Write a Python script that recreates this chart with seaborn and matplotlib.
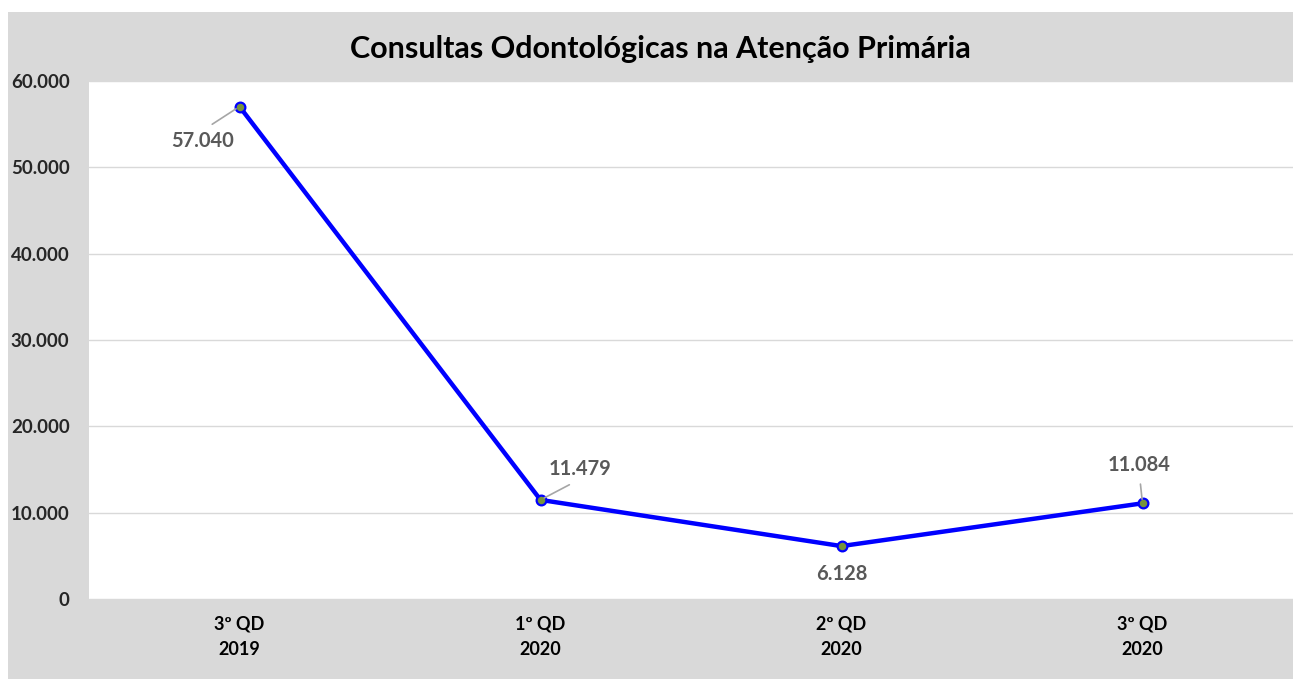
import matplotlib
matplotlib.use("Agg")
import matplotlib.pyplot as plt
from matplotlib.patches import Rectangle
from matplotlib.ticker import FuncFormatter, MultipleLocator
import seaborn as sns
import pandas as pd

# dados do gráfico
periodos = ["3º QD\n2019", "1º QD\n2020", "2º QD\n2020", "3º QD\n2020"]
consultas = [57040, 11479, 6128, 11084]
rotulos = ["57.040", "11.479", "6.128", "11.084"]

sns.set_style("white")
plt.rcParams["font.family"] = ["Lato", "DejaVu Sans"]

W, H = 1293, 679
fig = plt.figure(figsize=(W / 100, H / 100), dpi=100, facecolor="white")
# fundo cinza do gráfico
fig.patches.append(Rectangle((8 / W, 0), 1 - 8 / W, 1 - 12 / H, transform=fig.transFigure,
                             facecolor="#d9d9d9", edgecolor="none", zorder=-1))

ax = fig.add_axes([89 / W, 80 / H, 1204 / W, 518 / H])
ax.set_zorder(1)
ax.set_facecolor("white")

df = pd.DataFrame({"pos": range(len(periodos)), "consultas": consultas})
sns.lineplot(data=df, x="pos", y="consultas", ax=ax, color="#0000ff", linewidth=3.2,
             marker="o", markersize=7, markerfacecolor="#77933c",
             markeredgecolor="#0000ff", markeredgewidth=1.6, sort=False, zorder=3)

ax.set_xlim(-0.5, len(periodos) - 0.5)
ax.set_ylim(0, 60000)
ax.yaxis.set_major_locator(MultipleLocator(10000))
ax.yaxis.set_major_formatter(FuncFormatter(lambda v, p: f"{int(v):,}".replace(",", ".")))
ax.grid(axis="y", color="#d9d9d9", linewidth=1)
ax.set_axisbelow(True)
for s in ax.spines.values():
    s.set_visible(False)

ax.set_xticks(range(len(periodos)))
ax.set_xticklabels(periodos, fontsize=13, fontweight="bold", color="black", linespacing=1.6)
ax.tick_params(axis="x", length=0, pad=12)
ax.tick_params(axis="y", length=0, pad=14, labelsize=13.5)
for lbl in ax.get_yticklabels():
    lbl.set_fontweight("bold")
ax.set_xlabel("")
ax.set_ylabel("")

# rótulos de dados (deslocamento em pixels, relpos da linha guia)
offsets = [(-37, -34), (40, 31), (0, -28), (-3, 38)]
relpos = [(0.5, 1.0), (0.5, 0.0), None, (0.5, 0.0)]
for i, (val, txt) in enumerate(zip(consultas, rotulos)):
    arrow = None
    if relpos[i] is not None:
        arrow = dict(arrowstyle="-", color="#a6a6a6", lw=1.2, relpos=relpos[i],
                     shrinkA=4, shrinkB=3)
    ax.annotate(txt, xy=(i, val), xytext=offsets[i], textcoords="offset pixels",
                ha="center", va="center", fontsize=14.5, fontweight="bold",
                color="#595959", arrowprops=arrow, zorder=4)

fig.text(660 / W, 1 - 49 / H, "Consultas Odontológicas na Atenção Primária",
         ha="center", va="center", fontsize=22, fontweight="bold", color="black")

fig.savefig("out.png", dpi=100, facecolor="white")
